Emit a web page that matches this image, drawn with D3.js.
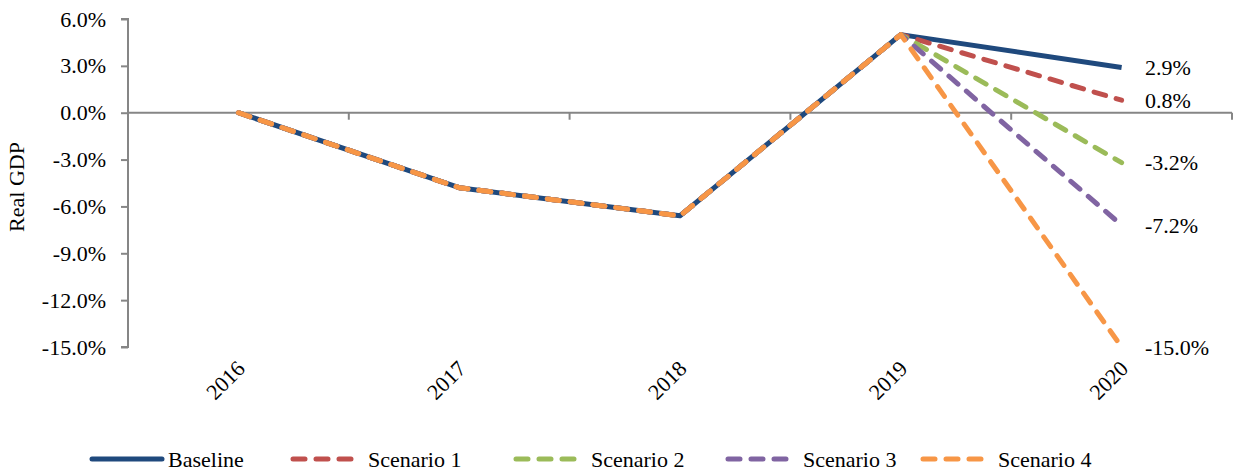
<!DOCTYPE html>
<html><head><meta charset="utf-8">
<script src="https://cdn.jsdelivr.net/npm/d3@7"></script>
<style>body{margin:0;background:#fff}svg{display:block}</style>
</head><body><svg id="c" width="1234" height="474"></svg>
<script>
const years = ["2016","2017","2018","2019","2020"];
const baseline = [0.0,-4.8,-6.6,5.0,2.9];
const scenario1 = [0.0,-4.8,-6.6,5.0,0.8];
const scenario2 = [0.0,-4.8,-6.6,5.0,-3.2];
const scenario3 = [0.0,-4.8,-6.6,5.0,-7.2];
const scenario4 = [0.0,-4.8,-6.6,5.0,-15.0];
const seriesNames = ["Baseline","Scenario 1","Scenario 2","Scenario 3","Scenario 4"];
const seriesColors = ["#1F497D","#C0504D","#9BBB59","#8064A2","#F79646"];
const yTicks = [6,3,0,-3,-6,-9,-12,-15];

const FONT = "'Liberation Serif', 'Times New Roman', Tinos, 'DejaVu Serif', serif";
const FS = "22px";
const fmt = d3.formatLocale({decimal:".",thousands:",",grouping:[3],currency:["",""],minus:"-"}).format(".1f");
const pct = d => fmt(d)+"%";
const series = [baseline,scenario1,scenario2,scenario3,scenario4].map((v,i)=>({name:seriesNames[i],color:seriesColors[i],values:v,dashed:i>0}));
const svg = d3.select("#c");
const L=128,R=1232,T=19,B=347;
const x = d3.scaleBand().domain(years).range([L,R]);
const y = d3.scaleLinear().domain([-15,6]).range([B,T]);
const axisColor="#868686";

function txt(sel){ return sel.attr("font-family",FONT).style("font-family",FONT).style("font-size",FS).attr("fill","#000"); }

// y axis
const ya = svg.append("g").attr("transform",`translate(${L},0)`)
  .call(d3.axisLeft(y).tickValues(yTicks).tickSize(7).tickPadding(15).tickFormat(pct));
ya.attr("font-family",FONT);
ya.select(".domain").attr("stroke",axisColor).attr("stroke-width",2).attr("d",`M-7,${T}H0V${B}H-7`);
ya.selectAll(".tick line").attr("stroke",axisColor).attr("stroke-width",2);
txt(ya.selectAll(".tick text"));

// x axis at zero
const y0=y(0);
const bounds = years.map(d=>x(d)).concat([R]);
svg.append("line").attr("x1",L).attr("x2",R).attr("y1",y0).attr("y2",y0).attr("stroke",axisColor).attr("stroke-width",2);
svg.selectAll(".xt").data(bounds.slice(1)).enter().append("line")
  .attr("x1",d=>d).attr("x2",d=>d).attr("y1",y0).attr("y2",y0+7).attr("stroke",axisColor).attr("stroke-width",2);

// x labels
txt(svg.selectAll(".xl").data(years).enter().append("text")
  .attr("transform",d=>`translate(${x(d)+x.bandwidth()/2+8},${370}) rotate(-45)`)
  .attr("text-anchor","end").text(d=>d));

// y title
txt(svg.append("text").attr("transform",`translate(24,${(T+B)/2+4}) rotate(-90)`).attr("text-anchor","middle").text("Real GDP"));

// lines
const line = d3.line().x((d,i)=>x(years[i])+x.bandwidth()/2).y(d=>y(d));
series.forEach(s=>{
  svg.append("path").datum(s.values).attr("d",line).attr("fill","none")
    .attr("stroke",s.color).attr("stroke-width",5).attr("stroke-linejoin","round")
    .attr("stroke-linecap",s.dashed?"round":"butt")
    .attr("stroke-dasharray",s.dashed?"12,11":null);
});

// end labels
series.forEach(s=>{
  const v=s.values[s.values.length-1];
  txt(svg.append("text").attr("x",1145).attr("y",y(v)).attr("dy","0.35em").text(pct(v)));
});

// legend
const lg = svg.append("g");
const legX=[92,290,513,725,920];
series.forEach((s,i)=>{
  const g=lg.append("g").attr("transform",`translate(${legX[i]},459)`);
  g.append("line").attr("x1",s.dashed?3:0).attr("x2",s.dashed?62:70).attr("y1",0).attr("y2",0)
    .attr("stroke",s.color).attr("stroke-width",5)
    .attr("stroke-linecap","round")
    .attr("stroke-dasharray",s.dashed?"12,11":null);
  txt(g.append("text").attr("x",s.dashed?78:76).attr("y",0).attr("dy","0.35em").text(s.name));
});
</script></body></html>
